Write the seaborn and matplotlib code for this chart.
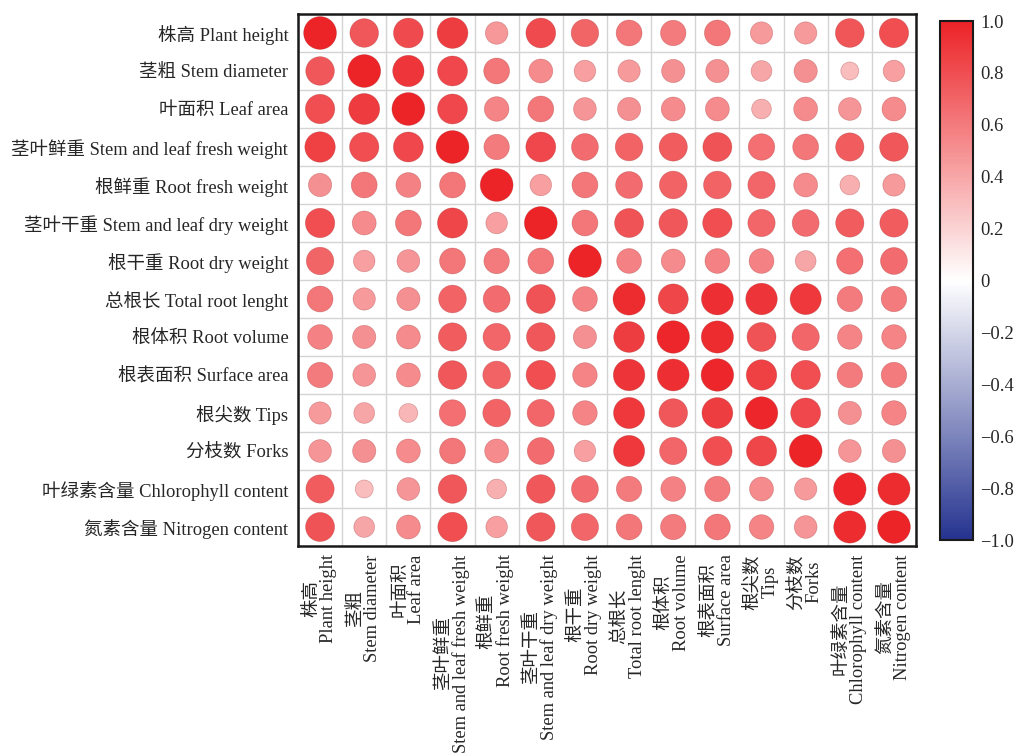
import numpy as np
import pandas as pd
import matplotlib
matplotlib.use("Agg")
import matplotlib.pyplot as plt
from matplotlib.colors import LinearSegmentedColormap, Normalize
from matplotlib.cm import ScalarMappable
import seaborn as sns

# Trait names (Chinese / English)
traits_cn = ["株高", "茎粗", "叶面积", "茎叶鲜重", "根鲜重", "茎叶干重", "根干重",
             "总根长", "根体积", "根表面积", "根尖数", "分枝数", "叶绿素含量", "氮素含量"]
traits_en = ["Plant height", "Stem diameter", "Leaf area", "Stem and leaf fresh weight",
             "Root fresh weight", "Stem and leaf dry weight", "Root dry weight",
             "Total root lenght", "Root volume", "Surface area", "Tips", "Forks",
             "Chlorophyll content", "Nitrogen content"]

# Pearson correlation coefficients, one list per row trait
corr_rows = [
    [1.00, 0.76, 0.82, 0.88, 0.47, 0.82, 0.70, 0.62, 0.60, 0.62, 0.46, 0.46, 0.77, 0.80],
    [0.76, 1.00, 0.91, 0.83, 0.62, 0.53, 0.43, 0.46, 0.50, 0.50, 0.40, 0.50, 0.30, 0.43],
    [0.80, 0.89, 1.00, 0.83, 0.56, 0.62, 0.48, 0.50, 0.53, 0.53, 0.36, 0.53, 0.48, 0.53],
    [0.86, 0.80, 0.83, 1.00, 0.60, 0.83, 0.67, 0.71, 0.74, 0.78, 0.65, 0.62, 0.74, 0.76],
    [0.50, 0.62, 0.57, 0.62, 1.00, 0.43, 0.62, 0.67, 0.71, 0.71, 0.69, 0.53, 0.36, 0.46],
    [0.80, 0.53, 0.62, 0.84, 0.43, 1.00, 0.62, 0.78, 0.76, 0.80, 0.69, 0.67, 0.74, 0.74],
    [0.70, 0.43, 0.48, 0.62, 0.60, 0.62, 1.00, 0.57, 0.53, 0.57, 0.57, 0.40, 0.65, 0.67],
    [0.62, 0.46, 0.50, 0.71, 0.67, 0.78, 0.57, 0.96, 0.84, 0.94, 0.92, 0.90, 0.60, 0.60],
    [0.57, 0.50, 0.53, 0.74, 0.69, 0.76, 0.50, 0.88, 0.98, 0.96, 0.78, 0.69, 0.56, 0.56],
    [0.60, 0.48, 0.53, 0.76, 0.71, 0.80, 0.56, 0.92, 0.94, 0.98, 0.86, 0.80, 0.60, 0.60],
    [0.46, 0.40, 0.33, 0.65, 0.71, 0.69, 0.56, 0.90, 0.76, 0.88, 0.98, 0.83, 0.50, 0.56],
    [0.48, 0.50, 0.53, 0.62, 0.53, 0.67, 0.43, 0.90, 0.69, 0.80, 0.84, 1.00, 0.48, 0.50],
    [0.74, 0.30, 0.48, 0.76, 0.36, 0.76, 0.67, 0.60, 0.57, 0.60, 0.53, 0.46, 0.98, 0.96],
    [0.78, 0.40, 0.53, 0.80, 0.43, 0.76, 0.69, 0.62, 0.60, 0.62, 0.56, 0.48, 0.96, 1.00],
]

cbar_ticks = [-1.0, -0.8, -0.6, -0.4, -0.2, 0.0, 0.2, 0.4, 0.6, 0.8, 1.0]

sns.set_theme(style="white")
plt.rcParams["font.family"] = ["Liberation Serif", "Noto Sans CJK SC"]
plt.rcParams["axes.unicode_minus"] = True

n = len(traits_cn)
records = []
for i, row in enumerate(corr_rows):
    for j, r in enumerate(row):
        records.append({"row": i, "col": j, "r": r, "absr": abs(r)})
df = pd.DataFrame(records)

cmap = LinearSegmentedColormap.from_list("bwr_corr", ["#25338F", "#FFFFFF", "#EC2327"])
norm = Normalize(-1, 1)

fig = plt.figure(figsize=(10.16, 7.56), dpi=100)
ax = fig.add_axes([0.2933, 0.2778, 0.6083, 0.7037])

# light cell grid
for k in range(n + 1):
    ax.axvline(k - 0.5, color="#D4D4D4", lw=1.0, zorder=0)
    ax.axhline(k - 0.5, color="#D4D4D4", lw=1.0, zorder=0)

sns.scatterplot(data=df, x="col", y="row", hue="r", palette=cmap, hue_norm=norm,
                size="absr", sizes=(0, 560), size_norm=(0, 1),
                edgecolor=(0.6, 0.15, 0.15, 0.35), linewidth=0.5, legend=False,
                ax=ax, zorder=3)

ax.set_xlim(-0.5, n - 0.5)
ax.set_ylim(n - 0.5, -0.5)
ax.set_xlabel("")
ax.set_ylabel("")
ax.set_xticks(range(n))
ax.set_yticks(range(n))
ax.set_yticklabels([f"{c} {e}" for c, e in zip(traits_cn, traits_en)], fontsize=13.3)
ax.set_xticklabels([f"{c}\n{e}" for c, e in zip(traits_cn, traits_en)], fontsize=13.3,
                   rotation=90, ha="center", va="top", linespacing=1.0)
ax.tick_params(axis="y", length=0, pad=7)
ax.tick_params(axis="x", length=0, pad=6)
for s in ax.spines.values():
    s.set_visible(True)
    s.set_color("#1A1A1A")
    s.set_linewidth(1.8)

# colour bar
cax = fig.add_axes([0.9252, 0.2857, 0.0325, 0.6865])
sm = ScalarMappable(norm=norm, cmap=cmap)
cb = fig.colorbar(sm, cax=cax, ticks=cbar_ticks)
cb.ax.set_yticklabels(["0" if t == 0 else f"{t:.1f}".replace("-", "\u2212") for t in cbar_ticks],
                      fontsize=13.3)
cb.ax.tick_params(direction="in", length=7, width=1.2, color="#1A1A1A", pad=5)
cb.outline.set_linewidth(1.5)
cb.outline.set_edgecolor("#1A1A1A")

fig.savefig("out.png", dpi=100)
